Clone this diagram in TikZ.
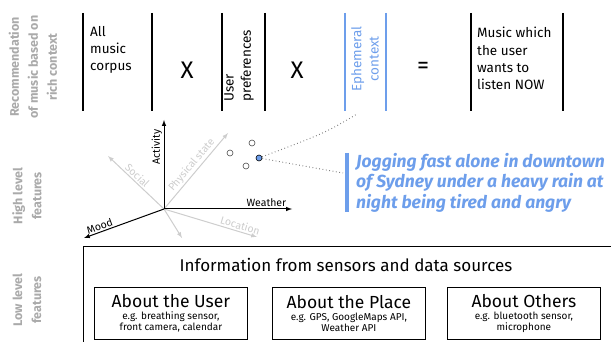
\documentclass[tikz,border=0pt]{standalone}
\usepackage{fontspec}
\setmainfont{Fira Sans}
\usetikzlibrary{positioning}
\definecolor{ctxblue}{RGB}{109,158,235}
\definecolor{lblgray}{RGB}{170,170,170}
\definecolor{axgray}{RGB}{205,205,205}
\tikzset{
  bar/.style={line width=2.5pt
  },
  vtext/.style={font=\fontsize{13.5}{17.3}\selectfont, align=left, inner sep=0pt
  },
  op/.style={font=\fontsize{24}{24}\selectfont
  },
  side/.style={rotate=90, font=\bfseries\fontsize{12.5}{19}\selectfont, text=lblgray,
    align=center
  },
  axis/.style={-latex, line width=1pt
  },
  faint/.style={-latex, line width=1pt, axgray
  },
  axlabel/.style={font=\fontsize{10.5}{12}\selectfont, sloped, above, inner sep=1.5pt
  },
  pt/.style={draw=black!70, circle, minimum size=6pt, inner sep=0pt, line width=0.6pt
  },
  link/.style={gray, line width=1pt, dash pattern=on 0.8pt off 2.6pt
  },
  src/.style={draw, line width=0.8pt, minimum width=153pt, minimum height=52pt,
    anchor=north west, inner sep=0pt, align=center, font=\fontsize{10}{11}\selectfont
  }
}

\begin{document}
\begin{tikzpicture}[x=1pt, y=-1pt]
   \useasboundingbox (0,0) rectangle (611,342);

   % side labels
   \node[side] (recside) at (33,67) {Recommendation\\of music based on\\rich context};
   \node[side] (highside) at (27,196) {High level\\features};
   \node[side] (lowside) at (27,300) {Low level\\features};

   % top row
   \draw[bar] (83,13) -- (83,111);
   \draw[bar] (152,13) -- (152,111);
   \node[vtext, anchor=north west] (corpus) at (90,26) {All\\music\\corpus};
   \node[op] (times1) at (187,70) {X};
   \draw[bar] (222,13) -- (222,111);
   \draw[bar] (265,13) -- (265,111);
   \node[vtext, rotate=90, anchor=west] (prefs) at (239,102) {User\\preferences};
   \node[op] (times2) at (297,70) {X};
   \draw[bar, ctxblue] (345,13) -- (345,111);
   \draw[bar, ctxblue] (386,13) -- (386,111);
   \node[vtext, rotate=90, align=center, text=ctxblue] (ctx) at (365,59) {Ephemeral\\context};
   \coordinate (ctxfoot) at (357,114);
   \node[op] (equals) at (423,68) {=};
   \draw[bar] (471,13) -- (471,111);
   \draw[bar] (563,13) -- (563,111);
   \node[vtext, anchor=north west] (result) at (477,27) {Music which\\the user\\wants to\\listen NOW};

   % feature space
   \coordinate (o) at (164,209);
   \draw[faint] (o) -- (108,156) node[axlabel, pos=0.55, text=axgray] {Social};
   \draw[faint] (o) -- (228,133) node[axlabel, pos=0.52, text=axgray] {Physical state};
   \draw[faint] (o) -- (257,237) node[axlabel, pos=0.8, text=axgray] {Location};
   \draw[faint] (o) -- (182,238);
   \draw[axis] (o) -- (164,120) node[axlabel, pos=0.7] {Activity};
   \draw[axis] (o) -- (292,209) node[axlabel, pos=0.8] {Weather};
   \draw[axis] (o) -- (84,238) node[axlabel, pos=0.78] {Mood};

   \node[pt] (p1) at (230,153) {};
   \node[pt] (p2) at (252,143) {};
   \node[pt] (p3) at (246,166) {};
   \node[pt, fill=ctxblue, draw=black] (cur) at (259,158) {};

   % current context
   \node[anchor=north west, inner sep=0pt, align=left, text=ctxblue,
     font=\bfseries\itshape\fontsize{17.5}{20.5}\selectfont] (quote) at (356,153)
     {Jogging fast alone in downtown\\of Sydney under a heavy rain at\\night being tired and angry};
   \draw[ctxblue, line width=4pt] ([xshift=-9pt]quote.north west) -- ([xshift=-9pt]quote.south west);
   \coordinate (quotefoot) at (343,173);
   \draw[link] (cur) .. controls (325,133) .. (ctxfoot);
   \draw[link] (cur) -- (quotefoot);

   % low level sources
   \node[draw, line width=0.8pt, anchor=north west, minimum width=540pt,
     minimum height=120pt] (info) at (83,246) {};
   \node[font=\fontsize{17}{19}\selectfont] (infotitle) at (346,265)
     {Information from sensors and data sources};
   \node[src] (user) at (94,287)
     {{\fontsize{17.5}{19}\selectfont About the User}\\[1pt]e.g. breathing sensor,\\front camera, calendar};
   \node[src] (place) at (272,287)
     {{\fontsize{17.5}{19}\selectfont About the Place}\\[1pt]e.g. GPS, GoogleMaps API,\\Weather API};
   \node[src] (others) at (447,287)
     {{\fontsize{17.5}{19}\selectfont About Others}\\[1pt]e.g. bluetooth sensor,\\microphone};
\end{tikzpicture}
\end{document}
